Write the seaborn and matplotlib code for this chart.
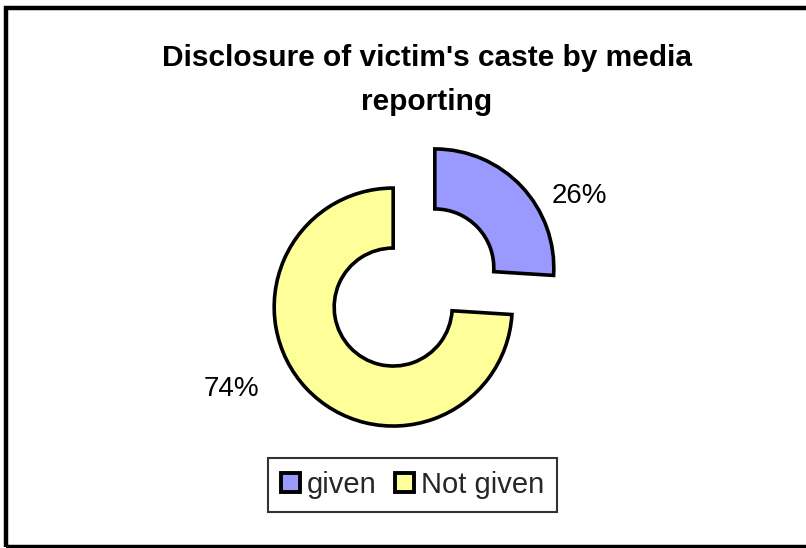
import matplotlib
matplotlib.use("Agg")
import matplotlib.pyplot as plt
import seaborn as sns
from matplotlib.patches import Rectangle

categories = ["given", "Not given"]
values = [26, 74]
colors = ["#9999FF", "#FFFF99"]
title = "Disclosure of victim's caste by media\nreporting"

sns.set_theme(style="white")
plt.rcParams["font.family"] = ["Liberation Sans", "DejaVu Sans"]

W, H = 806, 548
fig = plt.figure(figsize=(W / 100, H / 100), dpi=100)
ax = fig.add_axes([0, 0, 1, 1])

cx, cy = 414, H - 287.5
R = 119
explode_frac = 0.24
wedges, _ = ax.pie(values, colors=colors, startangle=90, counterclock=False,
                   radius=R, center=(cx, cy),
                   explode=[explode_frac * R] * len(values),
                   wedgeprops=dict(width=60, edgecolor="black", linewidth=2.6),
                   frame=True)
ax.set_xlim(0, W)
ax.set_ylim(0, H)
ax.set_aspect("equal")
ax.set_axis_off()

total = sum(values)
label_pos = [(579, H - 196), (231, H - 389)]
for v, (lx, ly) in zip(values, label_pos):
    ax.text(lx, ly, f"{round(100 * v / total)}%", ha="center", va="center",
            fontsize=20, color="black")

ax.text(427, H - 80, title, ha="center", va="center", fontsize=21.5,
        fontweight="bold", linespacing=1.7, color="black")

leg = ax.legend(wedges, categories, loc="center", bbox_to_anchor=(412.5 / W, 1 - 485 / H),
                ncol=2, fontsize=21, frameon=True, fancybox=False,
                handlelength=0.65, handleheight=0.65, handletextpad=0.22,
                columnspacing=0.65, borderpad=0.45, borderaxespad=0)
leg.get_frame().set_edgecolor("black")
leg.get_frame().set_linewidth(1.5)
for h in leg.legend_handles:
    h.set_linewidth(2.8)

fig.patches.append(Rectangle((6 / W, 1 / H), 1.2, (H - 9) / H, transform=fig.transFigure,
                             fill=False, edgecolor="black", linewidth=3.2))

fig.savefig("out.png", dpi=100, facecolor="white")
